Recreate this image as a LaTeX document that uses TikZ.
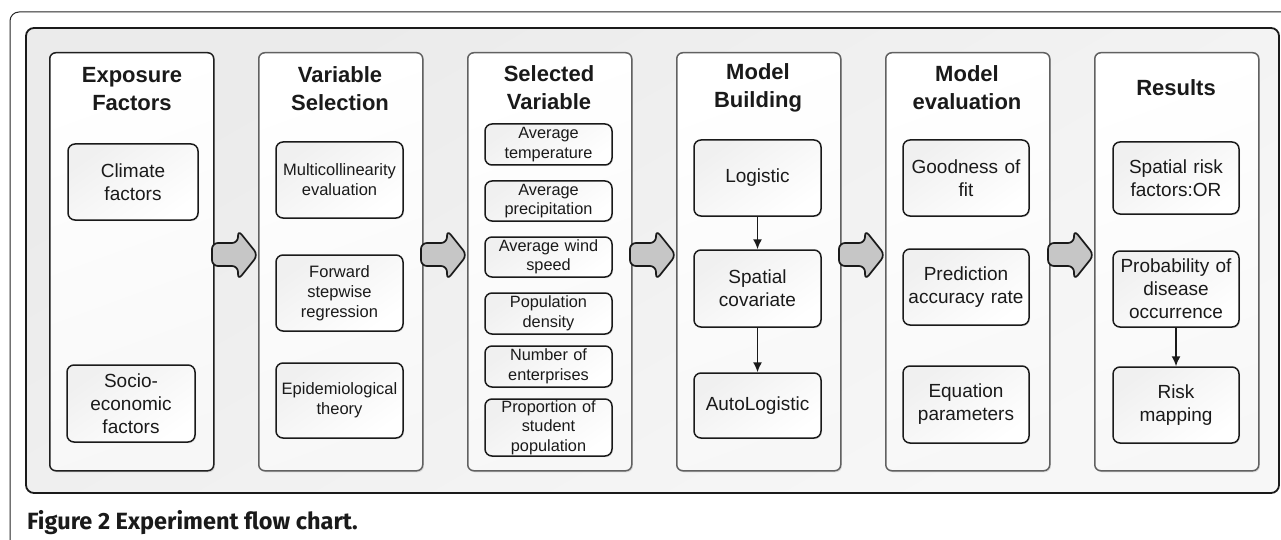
\documentclass[tikz,border=0pt]{standalone}
\usepackage{fontspec}
\setmainfont{Liberation Sans}
\newfontfamily\capfont{Fira Sans}
\usetikzlibrary{shadows,arrows.meta}
\definecolor{ink}{HTML}{1A1A1A}
\definecolor{arrowfill}{HTML}{C6C6C6}
\begin{document}
\begin{tikzpicture}[x=1pt,y=-1pt,
  colbox/.style={draw=black!62, line width=1.5pt, rounded corners=6pt,
    shading=axis, top color=white, bottom color=black!3, shading angle=20,
    minimum width=164pt, minimum height=418pt, inner sep=0pt, anchor=north west,
    drop shadow={opacity=0.2, shadow xshift=1.2pt, shadow yshift=-1.5pt}},
  coltitle/.style={font=\fontsize{22}{28}\selectfont\bfseries, text=ink, align=center},
  bigbox/.style={draw=ink, line width=1.5pt, rounded corners=7pt,
    shading=axis, top color=black!6, bottom color=white, shading angle=35,
    minimum height=76pt, text width=120pt, align=center, inner sep=0pt,
    font=\fontsize{19}{23}\selectfont, text=ink,
    drop shadow={opacity=0.15, shadow xshift=1pt, shadow yshift=-1.2pt}},
  midbox/.style={bigbox, font=\fontsize{16.5}{20}\selectfont},
  smallbox/.style={bigbox, minimum height=41pt, font=\fontsize{16.3}{19.5}\selectfont},
  blockarrow/.style={draw=ink, line width=1.7pt, fill=arrowfill, rounded corners=6pt},
  flow/.style={-{Latex[length=10pt,width=9pt]}, draw=ink, line width=1.5pt}
]
\useasboundingbox (0,0) rectangle (1281,540);
\fill[white] (0,0) rectangle (1281,540);
% outer frame (clipped)
\begin{scope}
\clip (0,0) rectangle (1281,540);
\draw[black!85, line width=1pt, rounded corners=9pt] (10,12) rectangle (1320,570);
\end{scope}
% panel
\draw[draw=ink, line width=1.8pt, rounded corners=8pt, shading=axis,
  top color=black!8, bottom color=black!3, shading angle=30] (26,28) rectangle (1279,493);

% columns
\node[colbox, draw=black!88] (c1) at (49,52) {};
\node[colbox] (c2) at (258,52) {};
\node[colbox] (c3) at (467,52) {};
\node[colbox] (c4) at (676,52) {};
\node[colbox] (c5) at (885,52) {};
\node[colbox] (c6) at (1094,52) {};

% titles
\node[coltitle] (t1) at (132,89) {Exposure\\Factors};
\node[coltitle] (t2) at (340,89) {Variable\\Selection};
\node[coltitle] (t3) at (549,87.5) {Selected\\Variable};
\node[coltitle] (t4) at (758,87.5) {Model\\Building};
\node[coltitle] (t5) at (967,87.5) {Model\\evaluation};
\node[coltitle] (t6) at (1176,88) {Results};

% column 1
\node[bigbox, minimum width=130pt] (clim) at (133,182) {Climate\\factors};
\node[bigbox, minimum width=128pt, minimum height=77pt] (socio) at (131,403.5) {Socio-\\economic\\factors};

% column 2
\node[midbox, minimum width=127pt] (multi) at (339.5,180) {Multicollinearity\\evaluation};
\node[midbox, minimum width=127pt] (fwd) at (339.5,293) {Forward\\stepwise\\regression};
\node[midbox, minimum width=127pt, minimum height=75pt] (epi) at (339.5,400.5) {Epidemiological\\theory};

% column 3
\node[smallbox, minimum width=127pt] (v1) at (548.5,144.5) {Average\\temperature};
\node[smallbox, minimum width=127pt, minimum height=40pt] (v2) at (548.5,201) {Average\\precipitation};
\node[smallbox, minimum width=127pt, minimum height=40pt] (v3) at (548.5,257) {Average wind\\speed};
\node[smallbox, minimum width=127pt] (v4) at (548.5,313.5) {Population\\density};
\node[smallbox, minimum width=127pt] (v5) at (548.5,366.5) {Number of\\enterprises};
\node[smallbox, minimum width=127pt, minimum height=57pt] (v6) at (548.5,427.5) {Proportion of\\student\\population};

% column 4
\node[bigbox, minimum width=127pt] (logi) at (757.5,178) {Logistic};
\node[bigbox, minimum width=127pt, minimum height=77pt] (spat) at (757.5,288.5) {Spatial\\covariate};
\node[bigbox, minimum width=127pt, minimum height=65pt] (auto) at (757.5,405.5) {AutoLogistic};
\draw[flow] (logi.south) -- (spat.north);
\draw[flow] (spat.south) -- (auto.north);

% column 5
\node[bigbox, minimum width=126pt] (good) at (966,178) {Goodness of\\fit};
\node[bigbox, minimum width=126pt] (pred) at (966,287) {Prediction\\accuracy rate};
\node[bigbox, minimum width=126pt, minimum height=77pt] (equ) at (966,404.5) {Equation\\parameters};

% column 6
\node[bigbox, minimum width=126pt, minimum height=72pt] (risk) at (1176,178) {Spatial risk\\factors:OR};
\node[bigbox, minimum width=126pt] (prob) at (1176,289) {Probability of\\disease\\occurrence};
\node[bigbox, minimum width=126pt] (map) at (1176,405) {Risk\\mapping};
\draw[flow] (prob.south) -- (map.north);

% block arrows between columns
\foreach \L in {212,421,630,839,1048}{
  \draw[blockarrow] (\L,243) -- (\L+26,243) -- (\L+26,230) -- (\L+46,255)
     -- (\L+26,280) -- (\L+26,266) -- (\L,266) -- cycle;
}

% caption
\node[anchor=base west, inner sep=0pt, text=ink, font=\capfont\bfseries\fontsize{23.5}{27}\selectfont] (cap) at (27,529) {Figure 2 Experiment flow chart.};
\end{tikzpicture}
\end{document}
